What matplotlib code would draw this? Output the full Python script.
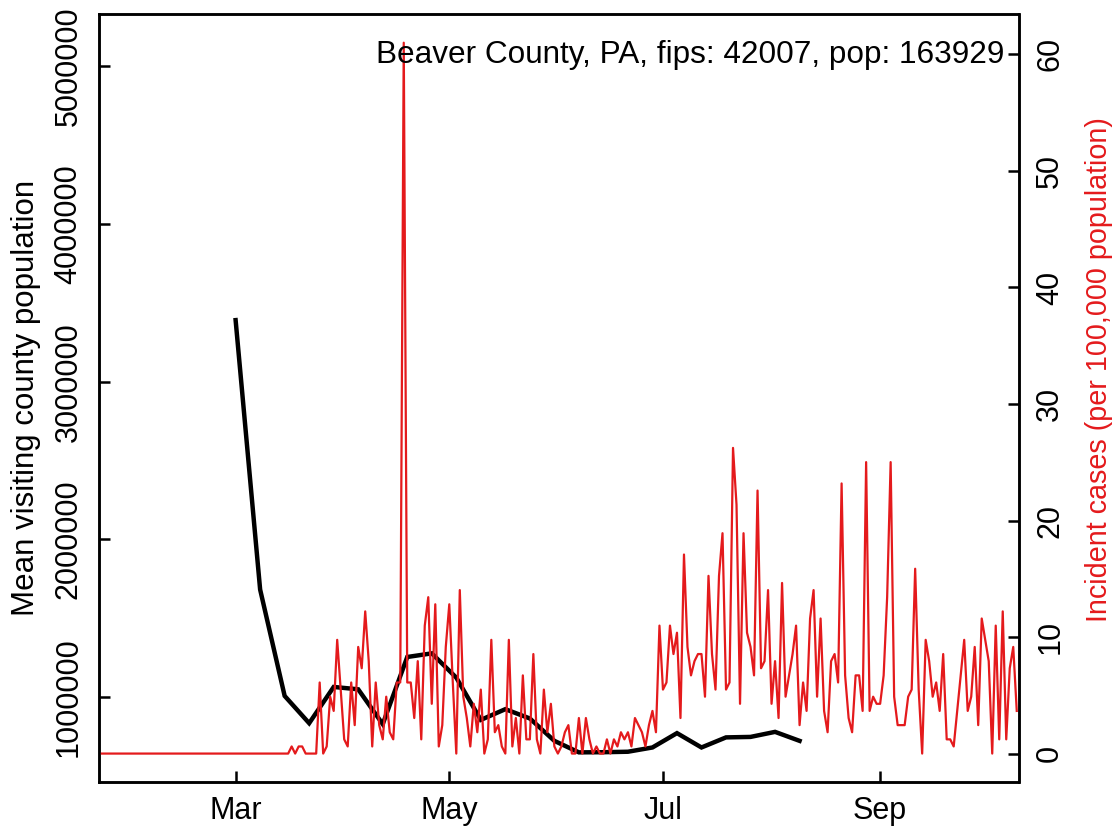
import matplotlib
matplotlib.use('Agg')
import matplotlib.pyplot as plt
import pandas as pd
import numpy as np

plt.rcParams['font.family'] = ['Liberation Sans', 'DejaVu Sans']

county_label = 'Beaver County, PA, fips: 42007, pop: 163929'
county_pop = 163929

# weekly mean visiting county population (black line)
visit_dates = pd.date_range('2020-03-01', periods=24, freq='7D')
visit_pop = [3391000, 1682000, 1007000, 834000, 1064000, 1049000, 828000, 1254000,
             1277000, 1123000, 855000, 923000, 864000, 722000, 649000, 650000,
             653000, 680000, 771000, 680000, 744000, 747000, 779000, 722000]

# daily new cases (red line), from 2020-01-22
case_dates = pd.date_range('2020-01-22', '2020-10-10', freq='D')
daily_cases = [0] * 54 + [
    0, 1, 0, 1, 1, 0, 0, 0, 0, 10, 0, 1, 8, 6, 16, 9, 2, 1, 10, 4,          # 75-94
    15, 12, 20, 13, 1, 10, 4, 2, 8, 3, 2, 10, 10, 100, 10, 10, 5, 13, 2, 18,  # 95-114
    22, 7, 21, 1, 4, 15, 21, 10, 0, 23, 8, 5, 1, 7, 3, 9, 0, 2, 16, 3,       # 115-134
    4, 1, 0, 16, 1, 5, 0, 11, 2, 2, 14, 2, 0, 9, 3, 7, 1, 0, 1, 3,           # 135-154
    4, 0, 0, 5, 0, 5, 2, 0, 1, 0, 0, 2, 0, 2, 1, 3, 2, 3, 1, 5,              # 155-174
    4, 3, 1, 4, 6, 3, 18, 9, 10, 18, 14, 17, 5, 28, 15, 11, 13, 14, 14, 8,   # 175-194
    25, 14, 9, 25, 31, 9, 10, 43, 35, 7, 31, 17, 15, 11, 37, 12, 13, 23, 7, 13,  # 195-214
    5, 24, 8, 11, 14, 18, 4, 10, 6, 19, 23, 8, 19, 6, 3, 13, 14, 10, 38, 11,  # 215-234
    5, 3, 11, 11, 6, 41, 6, 8, 7, 7, 11, 22, 41, 8, 4, 4, 4, 8, 9, 26,       # 235-254
    9, 0, 16, 13, 8, 10, 6, 14, 2, 2, 1, 6, 11, 16, 6, 8, 15, 4, 19, 16,     # 255-274
    13, 0, 18, 2, 20, 2, 12, 15, 6]                                          # 275-283
case_rate = np.array(daily_cases) / county_pop * 1e5

left_ticks = [1000000, 2000000, 3000000, 4000000, 5000000]
right_ticks = [0, 10, 20, 30, 40, 50, 60]
month_ticks = pd.to_datetime(['2020-03-01', '2020-05-01', '2020-07-01', '2020-09-01'])
month_labels = ['Mar', 'May', 'Jul', 'Sep']

fs = 22
fig = plt.figure(figsize=(11.19, 8.31), dpi=100)
ax = fig.add_axes([99 / 1119, 1 - 782 / 831, 919.5 / 1119, 767.7 / 831])
ax2 = ax.twinx()

ax.plot(visit_dates, visit_pop, color='black', lw=3.2, solid_joinstyle='miter', zorder=2)
ax2.plot(case_dates, case_rate, color='#e41a1c', lw=1.6, zorder=2)

ax.set_xlim(case_dates[0], case_dates[-1] + pd.Timedelta(days=0.5))
ax.set_ylim(461000, 5331000)
ax2.set_ylim(-2.44, 63.44)

ax.set_xticks(month_ticks)
ax.set_xticklabels(month_labels)
ax.set_yticks(left_ticks)
ax.set_yticklabels([str(v) for v in left_ticks])
ax2.set_yticks(right_ticks)
ax2.set_yticklabels([str(v) for v in right_ticks])

for a in (ax, ax2):
    for s in a.spines.values():
        s.set_linewidth(1.8)
ax.tick_params(axis='both', direction='in', length=8, width=1.8, labelsize=fs)
ax.tick_params(axis='x', pad=10)
ax.tick_params(axis='y', pad=11, labelrotation=90)
ax2.tick_params(axis='y', direction='in', length=8, width=1.8, labelsize=fs,
                pad=12, labelrotation=90)
plt.setp(ax.get_yticklabels(), va='center')
plt.setp(ax2.get_yticklabels(), va='center')

fig.text(26 / 1119, 1 - 398 / 831, 'Mean visiting county population',
         fontsize=22.5, rotation=90, ha='center', va='center')
fig.text(1099 / 1119, 1 - 370 / 831, 'Incident cases (per 100,000 population)',
         color='#e41a1c', fontsize=20.7, rotation=90, ha='center', va='center')

ax2.text(0.985, 0.947, county_label, transform=ax2.transAxes, fontsize=22.7,
         ha='right', va='center', zorder=5)

fig.savefig('out.png', dpi=100)
